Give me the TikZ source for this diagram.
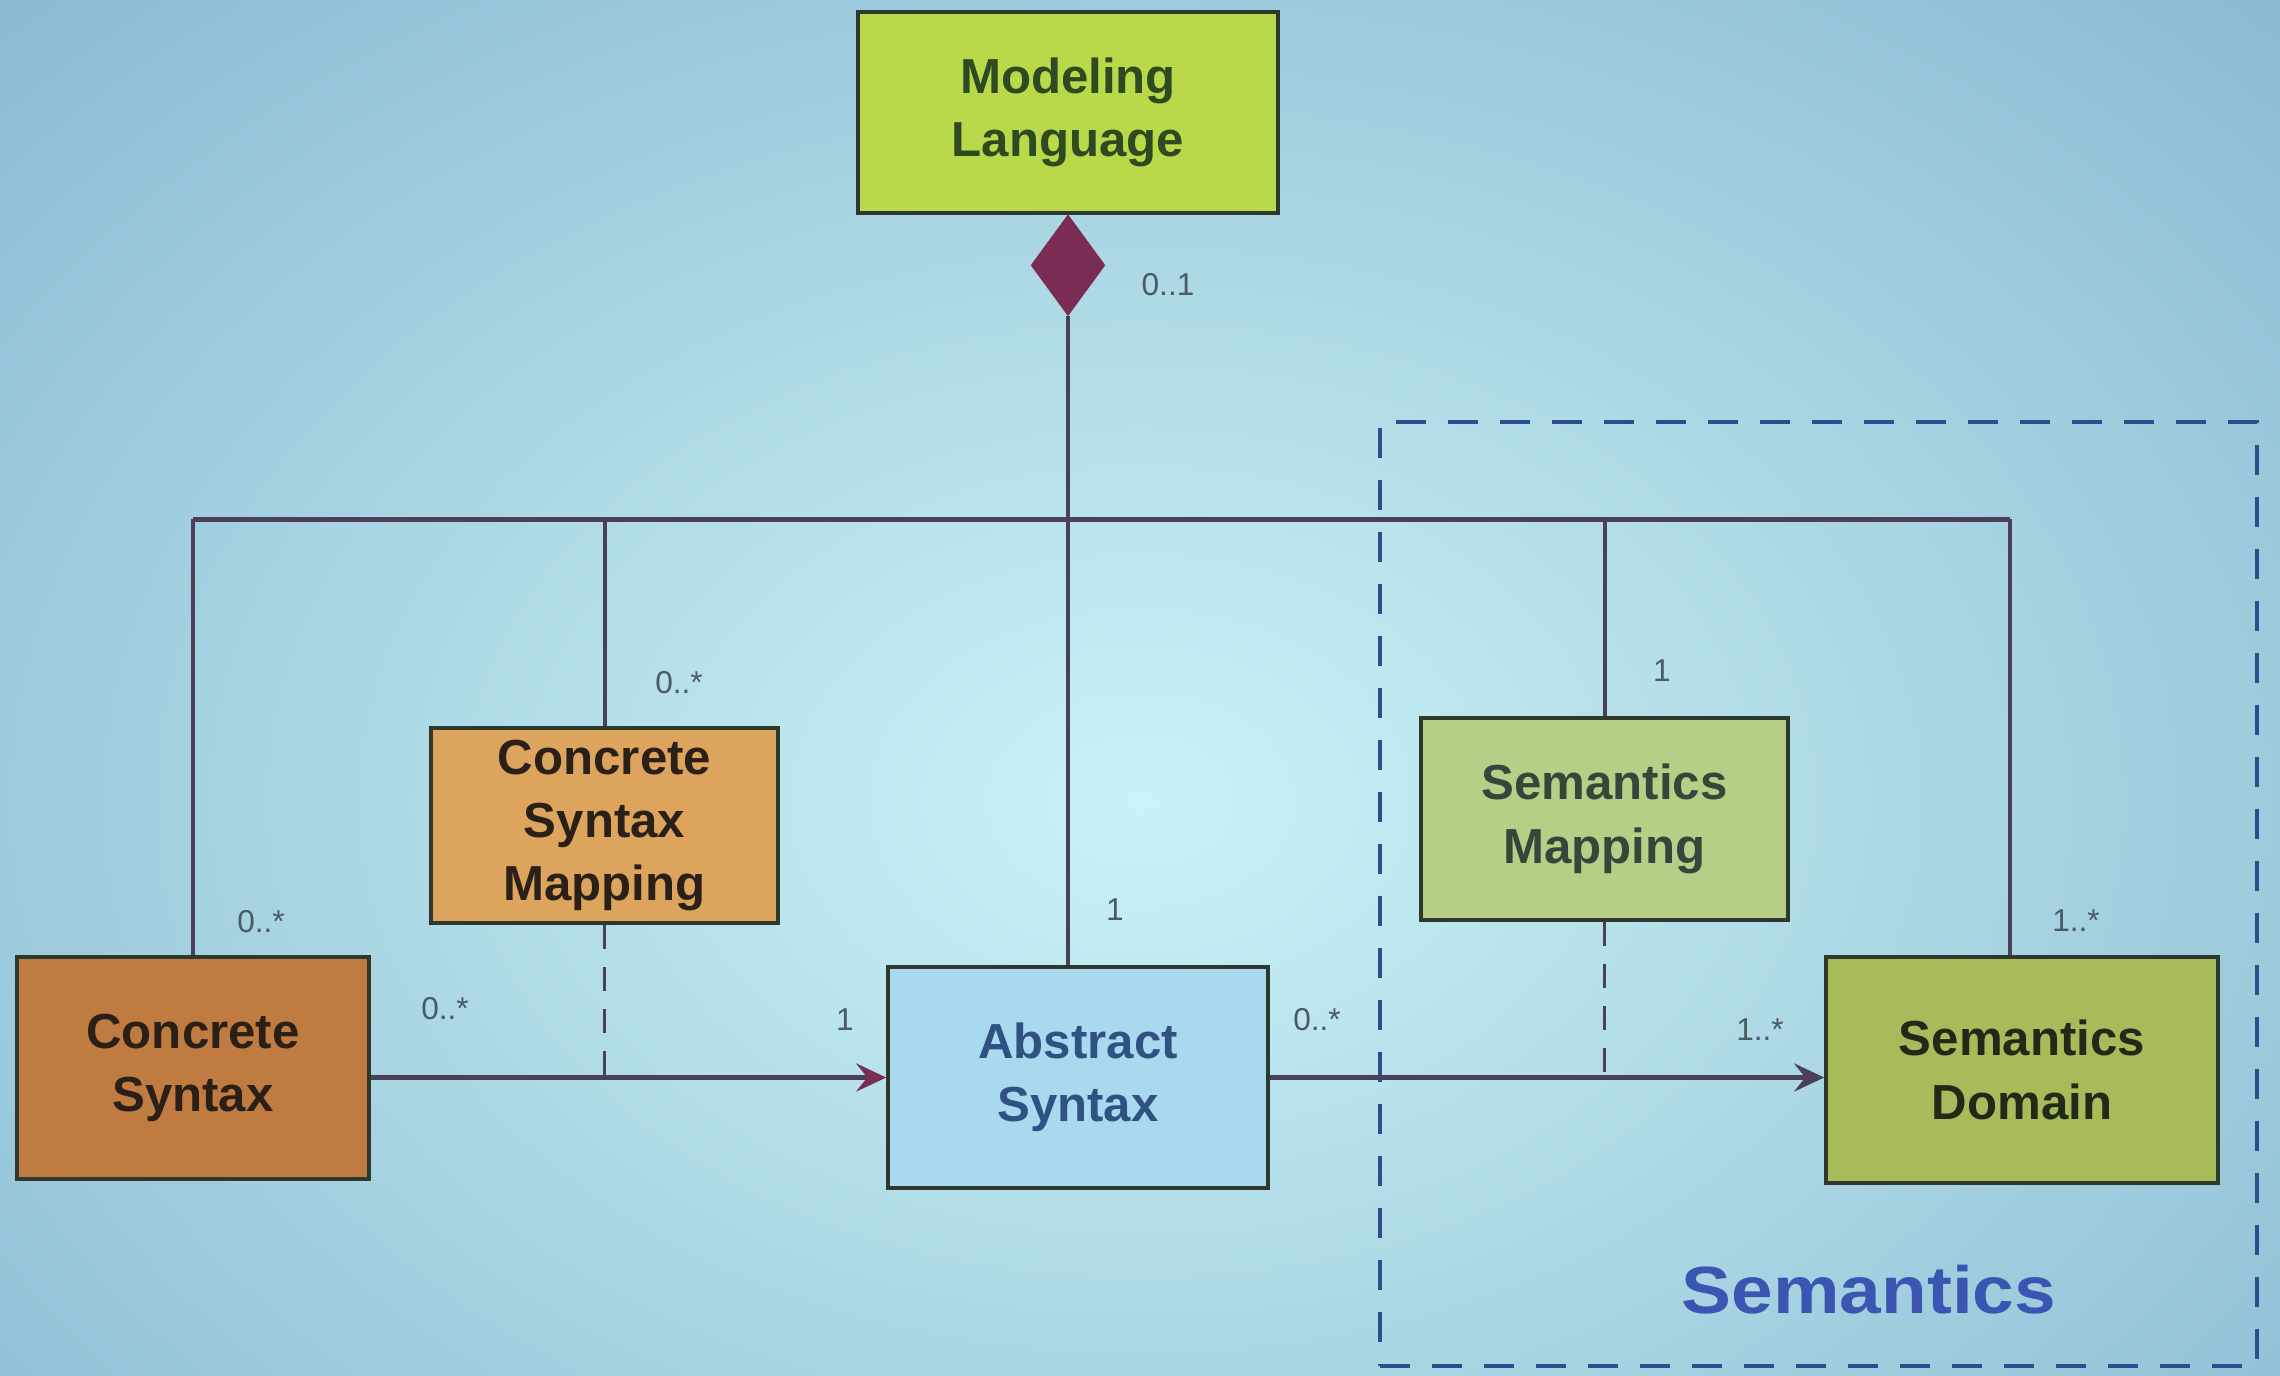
\documentclass[tikz,border=0pt]{standalone}
\usepackage{fontspec}
\setmainfont{Liberation Sans}
\usetikzlibrary{arrows.meta,shapes.geometric}

\definecolor{bgin}{HTML}{CAF3F7}
\definecolor{bgout}{HTML}{82B2CC}
\definecolor{linecol}{HTML}{4A4058}
\definecolor{maroon}{HTML}{7A2C52}
\definecolor{boxline}{HTML}{2F382C}
\definecolor{mlfill}{HTML}{BAD94A}
\definecolor{mltext}{HTML}{2E4A20}
\definecolor{csfill}{HTML}{BF7B40}
\definecolor{csmfill}{HTML}{DCA45C}
\definecolor{cstext}{HTML}{2A2018}
\definecolor{asfill}{HTML}{A9D9EE}
\definecolor{astext}{HTML}{2F5282}
\definecolor{smfill}{HTML}{B6CE86}
\definecolor{smtext}{HTML}{36463A}
\definecolor{sdfill}{HTML}{A6BB5A}
\definecolor{sdtext}{HTML}{202A18}
\definecolor{multcol}{HTML}{4C5A66}
\definecolor{groupcol}{HTML}{2D4E8C}
\definecolor{grouptext}{HTML}{3A56B2}

\tikzset{
  classbox/.style={draw=boxline, line width=0.35mm, inner sep=0pt, align=center,
                   font=\fontsize{14}{18}\selectfont\bfseries},
  link/.style={draw=linecol, line width=0.4mm},
  assoc/.style={draw=linecol, line width=0.55mm,
                -{Stealth[length=3mm,width=2.8mm,inset=1.1mm]}},
  tracedash/.style={draw=linecol, line width=0.35mm, dash pattern=on 2.4mm off 1.8mm},
  mult/.style={text=multcol, font=\fontsize{9}{10}\selectfont, inner sep=0pt},
}

\begin{document}
\begin{tikzpicture}[x=0.1mm, y=-0.1mm]
  \useasboundingbox (0,0) rectangle (2280,1376);

  % backdrop
  \begin{scope}
    \clip (0,0) rectangle (2280,1376);
    \shade[inner color=bgin, outer color=bgout] (-700,-500) rectangle (2980,2100);
  \end{scope}

  % semantics package frame
  \node[draw=groupcol, line width=0.45mm, dash pattern=on 3mm off 2.2mm,
        minimum width=87.7mm, minimum height=94.4mm, inner sep=0pt]
        (semgroup) at (1818.5,894) {};
  \node[text=grouptext, font=\fontsize{19}{22}\selectfont\bfseries]
        (semlabel) at (1869,1290) {\scalebox{1.12}[1]{Semantics}};

  % classes
  \node[classbox, fill=mlfill, text=mltext, minimum width=42mm, minimum height=20.1mm]
        (ml) at (1068,112.5) {Modeling\\Language};
  \node[classbox, fill=csfill, text=cstext, minimum width=35.2mm, minimum height=22.2mm]
        (cs) at (193,1068) {Concrete\\Syntax};
  \node[classbox, fill=csmfill, text=cstext, minimum width=34.7mm, minimum height=19.5mm]
        (csm) at (604.5,825.5) {Concrete\\Syntax\\Mapping};
  \node[classbox, fill=asfill, text=astext, minimum width=38mm, minimum height=22.1mm]
        (as) at (1078,1077.5) {Abstract\\Syntax};
  \node[classbox, fill=smfill, text=smtext, minimum width=36.7mm, minimum height=20.2mm]
        (sm) at (1604.5,819) {Semantics\\Mapping};
  \node[classbox, fill=sdfill, text=sdtext, minimum width=39.2mm, minimum height=22.6mm]
        (sd) at (2022,1070) {Semantics\\Domain};

  % composition diamond
  \node[diamond, fill=maroon, draw=maroon, line width=0.3mm, inner sep=0pt,
        minimum width=7.2mm, minimum height=9.8mm, anchor=north]
        (dia) at (ml.south) {};

  % composition bus
  \coordinate (busL) at (193,519);
  \coordinate (busR) at (2010,519);
  \draw[link, line width=0.5mm] (busL) -- (busR);
  \draw[link] (dia.south) -- (dia.south |- as.north);
  \draw[link] (busL) -- (busL |- cs.north);
  \draw[link] (csm.north) -- (csm.north |- busL);
  \draw[link] (sm.north) -- (sm.north |- busL);
  \draw[link] (busR) -- (busR |- sd.north);

  % associations
  \draw[assoc, -{Stealth[length=3mm,width=2.8mm,inset=1.1mm,color=maroon]}]
        (cs.east |- as.west) -- (as.west);
  \draw[assoc] (as.east) -- (as.east -| sd.west);
  \draw[tracedash] (csm.south) -- (csm.south |- as.west);
  \draw[tracedash] (sm.south) -- (sm.south |- as.east);

  % multiplicities
  \node[mult] (m01) at (1168,285) {0..1};
  \node[mult] (mcs) at (261,922) {0..*};
  \node[mult] (mcsm) at (679,683) {0..*};
  \node[mult] (mcsa) at (445,1009) {0..*};
  \node[mult] (masl) at (845,1020) {1};
  \node[mult] (mast) at (1115,910) {1};
  \node[mult] (masr) at (1317,1020) {0..*};
  \node[mult] (msm) at (1662,671) {1};
  \node[mult] (msdt) at (2076,921) {1..*};
  \node[mult] (msdl) at (1760,1030) {1..*};
\end{tikzpicture}
\end{document}
